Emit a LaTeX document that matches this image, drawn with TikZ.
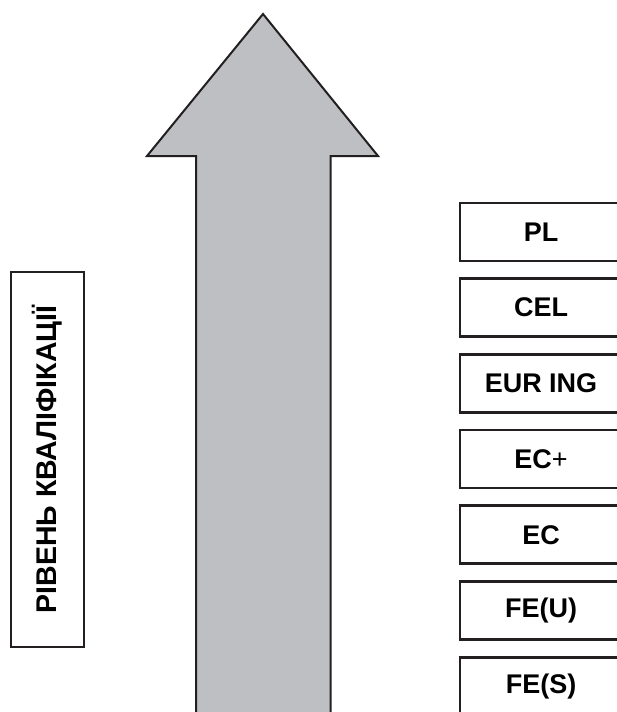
\documentclass[tikz,border=0pt]{standalone}
\usepackage{fontspec}
\setmainfont{Liberation Sans}
\usetikzlibrary{positioning}

\definecolor{arrowgray}{RGB}{190,191,195}
\definecolor{inkline}{RGB}{35,31,32}

\newcommand{\LevelFont}{\fontsize{27}{31}\selectfont\bfseries}
\newcommand{\TitleFont}{\fontsize{28.5}{32}\selectfont\bfseries}

\begin{document}
\begin{tikzpicture}[x=1pt, y=-1pt,
    levelbox/.style={draw=inkline, line width=2.7pt, minimum width=162pt,
        minimum height=58pt, inner sep=0pt, font=\LevelFont},
    titlebox/.style={draw=inkline, line width=2.9pt, rotate=90, minimum width=375pt,
        minimum height=73pt, inner sep=0pt, font=\TitleFont}]
    \useasboundingbox (0,0) rectangle (617,712);
    \clip (0,0) rectangle (617,712);

    % big arrow
    \filldraw[fill=arrowgray, draw=inkline, line width=2pt, line join=miter]
        (196,730) -- (196,156) -- (147,156) -- (263,14)
        -- (378,156) -- (330.5,156) -- (330.5,730);

    % title on the left
    \node[titlebox] (level) at (47.5,459.5) {РІВЕНЬ КВАЛІФІКАЦІЇ};

    % qualification boxes
    \foreach \lbl [count=\i] in {PL, CEL, EUR ING, EC{\mdseries+}, EC, FE(U), FE(S)}
        \node[levelbox] (q\i) at (541,{232+75.7*(\i-1)}) {\lbl};
\end{tikzpicture}
\end{document}
